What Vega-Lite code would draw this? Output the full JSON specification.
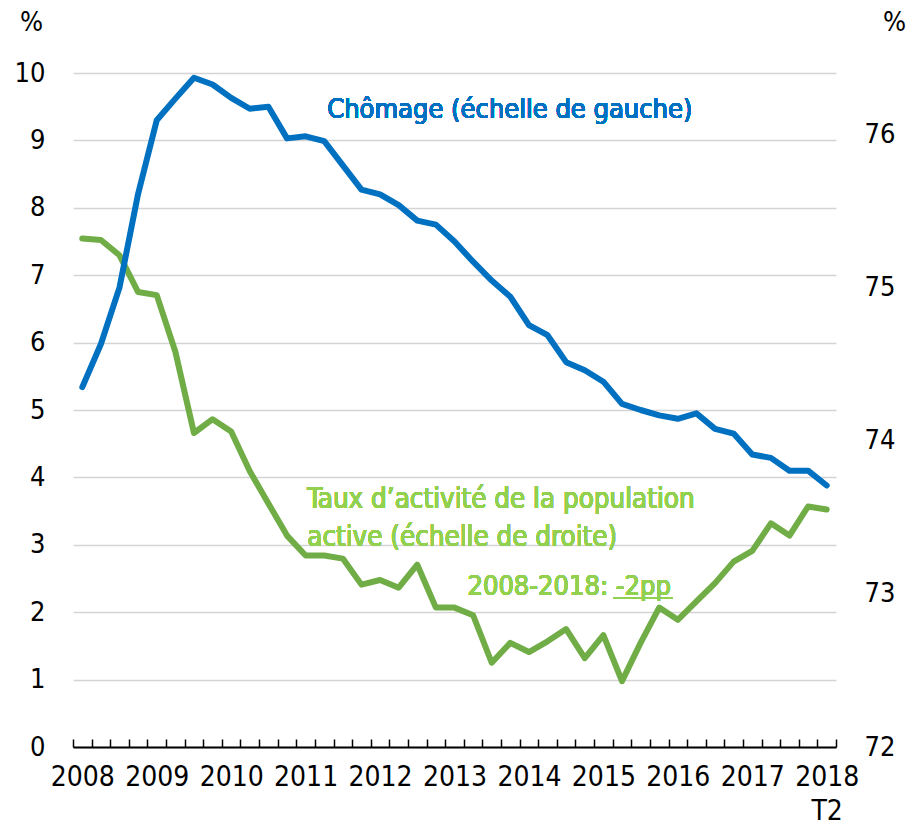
{
  "$schema": "https://vega.github.io/schema/vega-lite/v6.json",
  "width": 763,
  "height": 674,
  "autosize": {"type": "none"},
  "padding": {"left": 73, "top": 73, "right": 84, "bottom": 79},
  "background": "white",
  "config": {
    "view": {"stroke": null},
    "font": "DejaVu Sans Condensed",
    "axis": {"labelFont": "DejaVu Sans Condensed", "titleFont": "DejaVu Sans Condensed", "labelColor": "#000", "titleColor": "#000"}
  },
  "data": {
    "values": [
      {"q": "2008T2", "u": 5.34, "a": 75.32},
      {"q": "2008T3", "u": 5.98, "a": 75.31},
      {"q": "2008T4", "u": 6.82, "a": 75.21},
      {"q": "2009T1", "u": 8.21, "a": 74.97},
      {"q": "2009T2", "u": 9.30, "a": 74.95},
      {"q": "2009T3", "u": 9.62, "a": 74.58},
      {"q": "2009T4", "u": 9.93, "a": 74.05},
      {"q": "2010T1", "u": 9.83, "a": 74.14},
      {"q": "2010T2", "u": 9.63, "a": 74.06},
      {"q": "2010T3", "u": 9.47, "a": 73.80},
      {"q": "2010T4", "u": 9.50, "a": 73.59},
      {"q": "2011T1", "u": 9.03, "a": 73.38},
      {"q": "2011T2", "u": 9.06, "a": 73.25},
      {"q": "2011T3", "u": 8.99, "a": 73.25},
      {"q": "2011T4", "u": 8.63, "a": 73.23},
      {"q": "2012T1", "u": 8.27, "a": 73.06},
      {"q": "2012T2", "u": 8.20, "a": 73.09},
      {"q": "2012T3", "u": 8.04, "a": 73.04},
      {"q": "2012T4", "u": 7.81, "a": 73.19},
      {"q": "2013T1", "u": 7.75, "a": 72.91},
      {"q": "2013T2", "u": 7.50, "a": 72.91},
      {"q": "2013T3", "u": 7.20, "a": 72.86},
      {"q": "2013T4", "u": 6.92, "a": 72.55},
      {"q": "2014T1", "u": 6.68, "a": 72.68},
      {"q": "2014T2", "u": 6.26, "a": 72.62},
      {"q": "2014T3", "u": 6.11, "a": 72.69},
      {"q": "2014T4", "u": 5.71, "a": 72.77},
      {"q": "2015T1", "u": 5.59, "a": 72.58},
      {"q": "2015T2", "u": 5.42, "a": 72.73},
      {"q": "2015T3", "u": 5.09, "a": 72.43},
      {"q": "2015T4", "u": 5.00, "a": 72.68},
      {"q": "2016T1", "u": 4.92, "a": 72.91},
      {"q": "2016T2", "u": 4.87, "a": 72.83},
      {"q": "2016T3", "u": 4.95, "a": 72.95},
      {"q": "2016T4", "u": 4.72, "a": 73.07},
      {"q": "2017T1", "u": 4.65, "a": 73.21},
      {"q": "2017T2", "u": 4.34, "a": 73.28},
      {"q": "2017T3", "u": 4.29, "a": 73.46},
      {"q": "2017T4", "u": 4.10, "a": 73.38},
      {"q": "2018T1", "u": 4.10, "a": 73.57},
      {"q": "2018T2", "u": 3.88, "a": 73.55}
    ]
  },
  "encoding": {
    "x": {
      "field": "q",
      "type": "ordinal",
      "sort": null,
      "scale": {"type": "band", "paddingInner": 0, "paddingOuter": 0},
      "axis": {
        "title": null,
        "tickBand": "extent",
        "tickSize": -8,
        "tickColor": "#000",
        "tickWidth": 1.5,
        "domainColor": "#000",
        "domainWidth": 2,
        "labelAngle": 0,
        "labelFontSize": 28,
        "labelPadding": 24,
        "labelOverlap": false,
        "labelLineHeight": 34,
        "labelExpr": "slice(datum.label, 4) == 'T2' ? (datum.label == '2018T2' ? ['2018', 'T2'] : slice(datum.label, 0, 4)) : ''"
      }
    }
  },
  "layer": [
    {
      "mark": {"type": "line", "color": "#70AD47", "strokeWidth": 6, "strokeCap": "round", "strokeJoin": "round"},
      "encoding": {
        "y": {
          "field": "a",
          "type": "quantitative",
          "scale": {"domain": [72, 76.4], "nice": false, "zero": false},
          "axis": {
            "orient": "right",
            "values": [72, 73, 74, 75, 76],
            "format": "d",
            "grid": false,
            "ticks": false,
            "domain": false,
            "labelFontSize": 27,
            "labelPadding": 28,
            "title": "%",
            "titleAngle": 0,
            "titleFontSize": 27,
            "titleFontWeight": "normal",
            "titleX": 58,
            "titleY": -51,
            "titleAlign": "center",
            "titleBaseline": "middle"
          }
        }
      }
    },
    {
      "layer": [
        {
          "mark": {"type": "line", "color": "#0070C0", "strokeWidth": 6, "strokeCap": "round", "strokeJoin": "round"},
          "encoding": {
            "y": {
              "field": "u",
              "type": "quantitative",
              "scale": {"domain": [0, 10], "nice": false},
              "axis": {
                "orient": "left",
                "values": [0, 1, 2, 3, 4, 5, 6, 7, 8, 9, 10],
                "format": "d",
                "grid": true,
                "gridColor": "#d4d4d4",
                "gridWidth": 1.5,
                "ticks": false,
                "domain": false,
                "labelFontSize": 27,
                "labelPadding": 28,
                "title": "%",
                "titleAngle": 0,
                "titleFontSize": 27,
                "titleFontWeight": "normal",
                "titleX": -42,
                "titleY": -51,
                "titleAlign": "center",
                "titleBaseline": "middle"
              }
            }
          }
        },
        {
          "mark": {"type": "text", "text": "Chômage (échelle de gauche)", "color": "#0070C0", "fontSize": 27, "align": "left", "baseline": "middle", "dx": 3},
          "encoding": {
            "x": {"datum": "2011T3"},
            "y": {"datum": 9.45, "type": "quantitative"}
          }
        },
        {
          "mark": {"type": "text", "text": ["Taux d’activité de la population", "active (échelle de droite)"], "color": "#92D050", "fontSize": 27.5, "align": "left", "baseline": "middle", "lineHeight": 38, "dx": 1.6},
          "encoding": {
            "x": {"datum": "2011T2"},
            "y": {"datum": 3.66, "type": "quantitative"}
          }
        },
        {
          "mark": {"type": "text", "text": "2008-2018: -2pp", "color": "#92D050", "fontSize": 27, "align": "left", "baseline": "middle", "dx": -5.6},
          "encoding": {
            "x": {"datum": "2013T3"},
            "y": {"datum": 2.37, "type": "quantitative"}
          }
        },
        {
          "mark": {"type": "rule", "color": "#92D050", "strokeWidth": 1.5, "xOffset": 10, "x2Offset": 13},
          "encoding": {
            "x": {"datum": "2015T2"},
            "x2": {"datum": "2016T1"},
            "y": {"datum": 2.21, "type": "quantitative"}
          }
        }
      ]
    }
  ],
  "resolve": {"scale": {"y": "independent"}}
}
